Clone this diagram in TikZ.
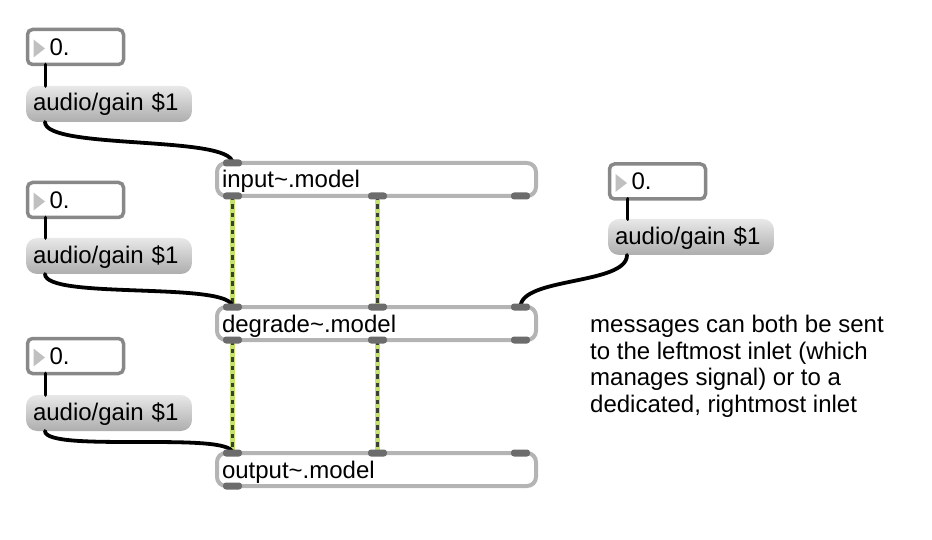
\documentclass[tikz,border=0pt]{standalone}
\usepackage{fontspec}
\setmainfont{Liberation Sans}
\usepackage{tikz}

\definecolor{numborder}{HTML}{888888}
\definecolor{objborder}{HTML}{B4B4B4}
\definecolor{portgray}{HTML}{6C6C6C}
\definecolor{trigray}{HTML}{C0C0C0}
\definecolor{siggreen}{HTML}{C6E26E}
\definecolor{sigdark}{HTML}{3C4030}

\tikzset{
  maxfont/.style={font=\fontsize{24}{26.7}\selectfont},
  numbox/.style={maxfont, draw=numborder, line width=3.5pt, fill=white, rounded corners=5pt,
    minimum width=96pt, minimum height=35pt, outer sep=0pt, anchor=north west,
    inner xsep=22pt, inner ysep=0pt, text width=52pt, align=left, text height=17pt, text depth=0pt},
  msgbox/.style={maxfont, top color=black!9, bottom color=black!32, draw=none, rounded corners=11pt,
    minimum width=166pt, minimum height=36pt, outer sep=0pt, anchor=north west,
    inner xsep=7pt, inner ysep=0pt, text width=152pt, align=left, text height=14pt, text depth=0pt},
  objbox/.style={maxfont, draw=objborder, line width=4pt, fill=white, rounded corners=9pt,
    minimum width=319pt, minimum height=33pt, outer sep=0pt, anchor=north west,
    inner xsep=5pt, inner ysep=0pt, text width=309pt, align=left, text height=17pt, text depth=0pt},
  cord/.style={line width=3.8pt, black, line cap=round},
  port/.style={fill=portgray, rounded corners=3pt},
  tri/.style={fill=trigray},
}

\begin{document}
\begin{tikzpicture}[x=1pt,y=-1pt]
\useasboundingbox (0,0) rectangle (932,540);

% Number boxes
\node[numbox] (num1) at (27.5,29.5) {0.};
\node[numbox] (num2) at (27.5,182.5) {0.};
\node[numbox] (num3) at (27.5,338.5) {0.};
\node[numbox] (num4) at (609.5,164) {0.};
\foreach \n in {num1,num2,num3,num4}
  \fill[tri] ([xshift=6pt,yshift=7.5pt]\n.west) -- ([xshift=17.5pt,yshift=-1.5pt]\n.west) -- ([xshift=6pt,yshift=-10.5pt]\n.west) -- cycle;

% Message boxes
\node[msgbox] (msg1) at (26,86) {audio/gain \$1};
\node[msgbox] (msg2) at (26,238) {audio/gain \$1};
\node[msgbox] (msg3) at (26,395) {audio/gain \$1};
\node[msgbox] (msg4) at (608,219) {audio/gain \$1};

% Object boxes
\node[objbox] (input) at (217,163) {input\char`~.model};
\node[objbox] (degrade) at (217,307) {degrade\char`~.model};
\node[objbox] (output) at (217,453) {output\char`~.model};

% Signal cables
\foreach \a/\b in {input/degrade,degrade/output}
  \foreach \x in {15.5,160}
  {
    \draw[siggreen, line width=5pt] ([xshift=\x pt]\a.south west) -- ([xshift=\x pt]\b.north west);
    \draw[sigdark, line width=3pt, dash pattern=on 4.5pt off 4pt] ([xshift=\x pt]\a.south west) -- ([xshift=\x pt]\b.north west);
  }

% Patch cords
\foreach \n/\m in {num1/msg1,num2/msg2,num3/msg3,num4/msg4}
  \draw[cord] ([xshift=18pt]\n.south west) -- ([xshift=18pt]\n.south west |- \m.north);
\draw[cord] ([xshift=19pt]msg1.south west) .. controls +(0,-28pt) and +(0,28pt) .. ([xshift=15.5pt]input.north west);
\draw[cord] ([xshift=19pt]msg2.south west) .. controls +(0,-26pt) and +(0,26pt) .. ([xshift=15.5pt]degrade.north west);
\draw[cord] ([xshift=19pt]msg3.south west) .. controls +(0,-22pt) and +(0,22pt) .. ([xshift=15.5pt]output.north west);
\draw[cord] ([xshift=19pt]msg4.south west) .. controls +(0,-30pt) and +(0,30pt) .. ([xshift=-15.5pt]degrade.north east);

% Inlets and outlets
\foreach \o/\s/\x in {input/north west/6, input/south west/6, input/south west/151, input/south east/-25,
    degrade/north west/6, degrade/north west/151, degrade/north east/-25,
    degrade/south west/6, degrade/south west/151, degrade/south east/-25,
    output/north west/6, output/north west/151, output/north east/-25, output/south west/6}
  \fill[port] ([xshift=\x pt,yshift=3.5pt]\o.\s) rectangle ++(19pt,-7pt);

% Comment
\node[maxfont, anchor=north west, align=left, inner sep=0pt] (comment) at (590,314.8)
  {messages can both be sent\\to the leftmost inlet (which\\manages signal) or to a\\dedicated, rightmost inlet};

\end{tikzpicture}
\end{document}
